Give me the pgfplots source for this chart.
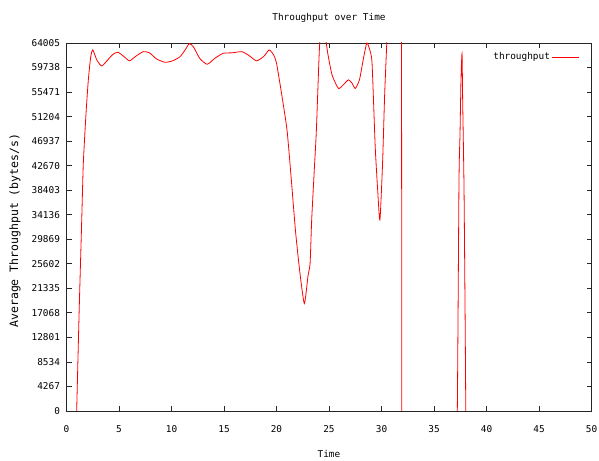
\documentclass[border=0pt]{standalone}
\usepackage{fontspec}
\setmainfont{DejaVu Sans Mono}
\usepackage{pgfplots}
\pgfplotsset{compat=1.18}
\newcommand\gfont{\fontsize{9.4}{11}\selectfont}

\pgfplotstableread{
t      v
0.97   0
1.2    17000
1.45   33200
1.6    43000
1.86   51800
2.08   57600
2.3    61500
2.5    62800
2.9    61000
3.35   60000
3.8    60800
4.4    62000
4.9    62400
5.5    61600
6.0    60900
6.6    61700
7.3    62500
7.9    62300
8.6    61200
9.4    60650
10.1   60900
10.8   61600
11.3   62800
11.7   63900
12.1   63300
12.7   61300
13.4   60300
14.1   61300
14.9   62200
15.8   62300
16.7   62500
17.4   61800
18.1   60900
18.8   61700
19.3   62800
19.7   62000
20.0   60500
20.5   55000
21.0   48900
21.4   40500
21.8   31500
22.2   24500
22.65  18700
23.0   23500
23.2   25700
23.35  33200
23.6   42000
23.8   48900
24.1   63500
24.4   68000
24.7   64500
24.9   62000
25.3   58400
25.9   56100
26.4   56800
26.85  57600
27.2   57000
27.5   56100
27.9   57600
28.3   61500
28.6   64000
28.85  63000
29.1   60500
29.4   46000
29.65  38000
29.85  33200
30.1   43000
30.3   55000
30.5   64005
30.7   75000
31.0   100000
31.85  80000
31.93  0
32.0   -20000
37.0   -20000
37.22  0
37.38  39900
37.48  48350
37.57  57600
37.67  62200
37.73  54100
37.86  38700
37.97  15000
38.03  0
38.1   -10000
}\thr

\begin{document}
\begin{tikzpicture}[font=\gfont]
\begin{axis}[
  name=ax,
  scale only axis,
  width=525pt, height=368pt,
  xmin=0, xmax=50, ymin=0, ymax=64005,
  xtick={0,5,...,50},
  ytick={0,4267,8534,12801,17068,21335,25602,29869,34136,38403,42670,46937,51204,55471,59738,64005},
  yticklabels={0,4267,8534,12801,17068,21335,25602,29869,34136,38403,42670,46937,51204,55471,59738,64005},
  scaled y ticks=false,
  /pgf/number format/assume math mode=true,
  tick align=inside,
  major tick length=5pt,
  axis line style={black!85, line width=0.8pt},
  every tick/.style={black!85, line width=0.8pt},
  tick label style={font=\gfont},
  yticklabel style={anchor=east, xshift=-3pt},
  xticklabel style={anchor=center, yshift=-18pt},
  title={Throughput over Time},
  title style={at={(axis description cs:0.5,1.0516)}, anchor=center, font=\gfont},
  xlabel={Time},
  xlabel style={at={(axis description cs:0.5,-0.1168)}, anchor=center, font=\gfont},
  ylabel={Average Throughput (bytes/s)},
  ylabel style={at={(axis description cs:-0.0981,0.49)}, anchor=center,
    font=\fontsize{11.5}{13}\selectfont},
  legend plot pos=right,
  legend style={draw=none, fill=none, font=\gfont,
    at={(axis description cs:0.978,0.962)}, anchor=east, inner sep=0pt},
  legend image code/.code={\draw[#1] (0pt,0pt) -- (27pt,0pt);},
]
\addplot[red, line width=0.8pt, smooth, tension=0.35] table[x=t, y=v] {\thr};
\addlegendentry{throughput}
\end{axis}
\pgfresetboundingbox
\path ([shift={(-66.5pt,-50pt)}]ax.south west) rectangle ([shift={(7.5pt,43pt)}]ax.north east);
\end{tikzpicture}
\end{document}
